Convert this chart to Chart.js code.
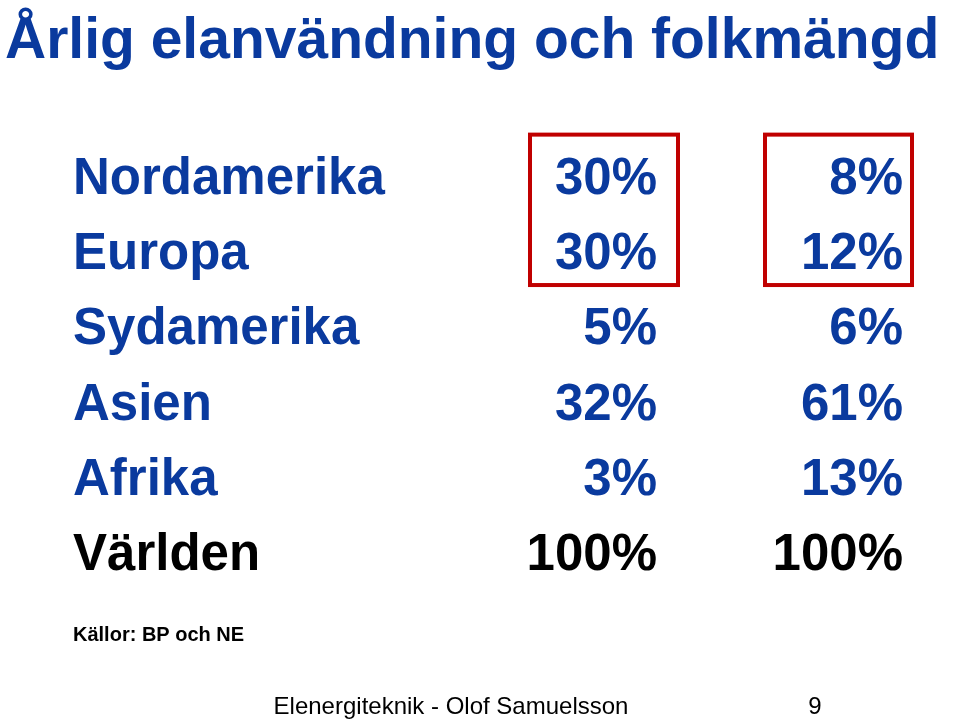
<!DOCTYPE html>
<html><head><meta charset="utf-8">
<script src="https://cdn.jsdelivr.net/npm/chart.js@4"></script>
<style>html,body{margin:0;padding:0;background:#fff}#w{width:960px;height:722px}</style>
</head><body><div id="w"><canvas id="c" width="960" height="722"></canvas></div>
<script>
const title = "Årlig elanvändning och folkmängd";
const regions = ["Nordamerika","Europa","Sydamerika","Asien","Afrika","Världen"];
const electricity = ["30%","30%","5%","32%","3%","100%"];
const population = ["8%","12%","6%","61%","13%","100%"];
const highlighted = [0,1];
const source = "Källor: BP och NE";
const footer = "Elenergiteknik - Olof Samuelsson";
const pageNo = "9";

const BLUE = "#0a3a9e";
const plugin = {
  id: "tbl",
  afterDraw(chart) {
    const ctx = chart.ctx, X = chart.scales.x, Y = chart.scales.y;
    ctx.save();
    ctx.textBaseline = "alphabetic";
    ctx.fillStyle = BLUE;
    ctx.font = "bold 57px 'Liberation Sans', Arial, sans-serif";
    ctx.textAlign = "left";
    ctx.fillText(title, 5, 58);
    ctx.font = "bold 51px 'Liberation Sans', Arial, sans-serif";
    regions.forEach((r, i) => {
      const y = Y.getPixelForValue(i) + 18;
      ctx.fillStyle = i === regions.length - 1 ? "#000" : BLUE;
      ctx.textAlign = "left";
      ctx.fillText(r, X.getPixelForValue(73), y);
      ctx.textAlign = "right";
      ctx.fillText(electricity[i], X.getPixelForValue(657), y);
      ctx.fillText(population[i], X.getPixelForValue(903), y);
    });
    ctx.strokeStyle = "#c00000"; ctx.lineWidth = 4;
    const y0 = Y.getPixelForValue(highlighted[0] - 0.55), y1 = Y.getPixelForValue(highlighted[1] + 0.45);
    ctx.strokeRect(X.getPixelForValue(530), y0, 148, y1 - y0);
    ctx.strokeRect(X.getPixelForValue(765), y0, 147, y1 - y0);
    ctx.fillStyle = "#000"; ctx.textAlign = "left";
    ctx.font = "bold 20px 'Liberation Sans', Arial, sans-serif";
    ctx.fillText(source, 73, 641);
    ctx.font = "24px 'Liberation Sans', Arial, sans-serif";
    ctx.textAlign = "center";
    ctx.fillText(footer, 451, 714);
    ctx.fillText(pageNo, 815, 714);
    ctx.restore();
  }
};
new Chart(document.getElementById("c"), {
  type: "scatter",
  data: { datasets: [{ data: regions.map((r, i) => ({x: 73, y: i})), pointRadius: 0 }] },
  options: {
    responsive: false, animation: false, events: [],
    layout: { padding: 0 },
    plugins: { legend: { display: false }, tooltip: { enabled: false } },
    scales: {
      x: { type: "linear", min: 0, max: 960, display: false },
      y: { type: "linear", min: -2.34, max: 7.26, reverse: true, display: false }
    }
  },
  plugins: [plugin]
});
</script></body></html>
